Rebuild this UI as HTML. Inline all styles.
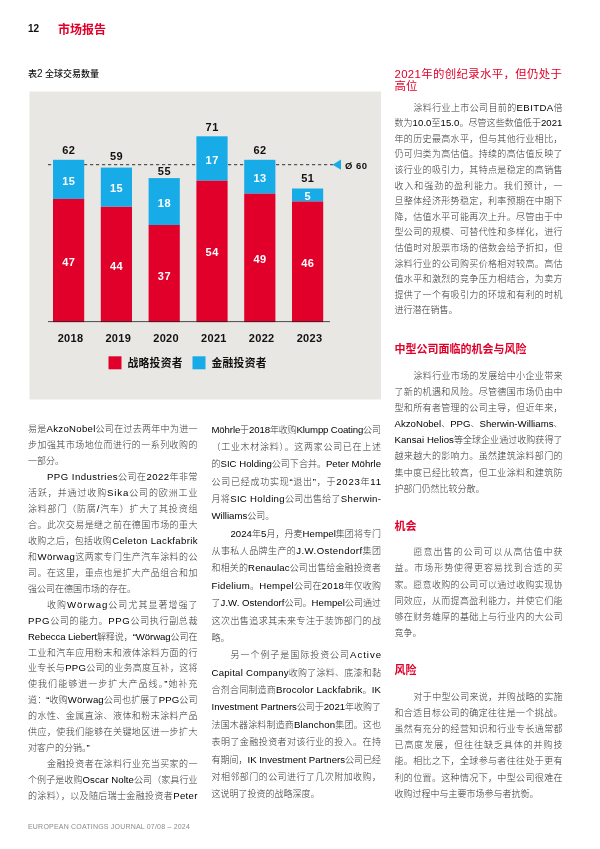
<!DOCTYPE html>
<html lang="zh-CN">
<head>
<meta charset="utf-8">
<title>市场报告</title>
<style>
html,body{margin:0;padding:0;background:#fff;}
body{width:600px;height:849px;position:relative;overflow:hidden;font-family:"Liberation Sans","Noto Sans CJK SC",sans-serif;}
.ln{position:absolute;height:16px;line-height:16px;font-size:9px;color:#333;white-space:nowrap;font-weight:300;}
.ln.j{}
.e{font-size:9.6px;color:#000;font-weight:400;}
.ln.i{text-indent:19px;}
.pn{position:absolute;left:28px;top:20.5px;font-size:10px;line-height:16px;color:#111;font-weight:bold;}
.sec{position:absolute;left:58px;top:20px;font-size:12px;line-height:20px;color:#e1002a;font-weight:bold;}
.cap{position:absolute;left:28px;top:66px;font-size:9px;line-height:16px;color:#111;font-weight:500;}
.h{position:absolute;left:394.5px;color:#e1002a;font-size:11.4px;line-height:14px;white-space:nowrap;}
.hb{font-weight:bold;font-size:11px;}
.ft{position:absolute;left:28px;top:821px;font-size:7px;line-height:12px;color:#8a8a8a;letter-spacing:0.2px;white-space:nowrap;}
svg text{font-family:"Liberation Sans","Noto Sans CJK SC",sans-serif;}
.tv{font-size:11px;font-weight:bold;fill:#111;text-anchor:middle;letter-spacing:0.5px;}
.iv{font-size:11px;font-weight:bold;fill:#fff;text-anchor:middle;letter-spacing:0.5px;}
.yr{font-size:11px;font-weight:bold;fill:#111;text-anchor:middle;letter-spacing:0.3px;}
.lg{font-size:10.8px;fill:#111;font-weight:700;letter-spacing:0.25px;}
</style>
</head>
<body>
<div class="pn">12</div>
<div class="sec">市场报告</div>
<div class="cap">表<span style="font-size:10px">2</span> 全球交易数量</div>
<svg style="position:absolute;left:0;top:0" width="600" height="420" viewBox="0 0 600 420">
<rect x="29.5" y="91.5" width="351.5" height="308" fill="#e9e7e4"/>
<line x1="48" y1="164.7" x2="333" y2="164.7" stroke="#333" stroke-width="1" stroke-dasharray="3.2 2.8"/>
<rect x="53.0" y="159.8" width="31.2" height="39.1" fill="#17abe8"/>
<rect x="53.0" y="198.9" width="31.2" height="123.2" fill="#e1002a"/>
<text class="tv" x="68.8" y="154.1">62</text>
<text class="iv" x="68.8" y="184.6">15</text>
<text class="iv" x="68.8" y="265.6">47</text>
<text class="yr" x="70.5" y="342">2018</text>
<rect x="100.8" y="167.6" width="31.2" height="39.1" fill="#17abe8"/>
<rect x="100.8" y="206.8" width="31.2" height="115.3" fill="#e1002a"/>
<text class="tv" x="116.6" y="159.9">59</text>
<text class="iv" x="116.6" y="192.4">15</text>
<text class="iv" x="116.6" y="269.5">44</text>
<text class="yr" x="118.3" y="342">2019</text>
<rect x="148.6" y="178.1" width="31.2" height="47.0" fill="#17abe8"/>
<rect x="148.6" y="225.0" width="31.2" height="97.1" fill="#e1002a"/>
<text class="tv" x="164.4" y="175.4">55</text>
<text class="iv" x="164.4" y="206.7">18</text>
<text class="iv" x="164.4" y="279.6">37</text>
<text class="yr" x="166.1" y="342">2020</text>
<rect x="196.4" y="136.3" width="31.2" height="44.4" fill="#17abe8"/>
<rect x="196.4" y="180.7" width="31.2" height="141.4" fill="#e1002a"/>
<text class="tv" x="212.2" y="130.6">71</text>
<text class="iv" x="212.2" y="163.7">17</text>
<text class="iv" x="212.2" y="256.4">54</text>
<text class="yr" x="213.9" y="342">2021</text>
<rect x="244.2" y="159.8" width="31.2" height="33.9" fill="#17abe8"/>
<rect x="244.2" y="193.7" width="31.2" height="128.4" fill="#e1002a"/>
<text class="tv" x="260.0" y="154.1">62</text>
<text class="iv" x="260.0" y="181.9">13</text>
<text class="iv" x="260.0" y="263.0">49</text>
<text class="yr" x="261.7" y="342">2022</text>
<rect x="292.0" y="188.5" width="31.2" height="13.0" fill="#17abe8"/>
<rect x="292.0" y="201.5" width="31.2" height="120.6" fill="#e1002a"/>
<text class="tv" x="307.8" y="182.0">51</text>
<text class="iv" x="307.8" y="200.2">5</text>
<text class="iv" x="307.8" y="266.9">46</text>
<text class="yr" x="309.5" y="342">2023</text>
<line x1="48" y1="321.6" x2="330" y2="321.6" stroke="#222" stroke-width="0.8"/>
<polygon points="332.5,164.7 341,159.6 341,169.8" fill="#17abe8"/>
<text x="345" y="169" style="font-size:9.5px;font-weight:bold;fill:#111;letter-spacing:0.45px">Ø 60</text>
<rect x="108.5" y="356.3" width="13" height="13" fill="#e1002a"/>
<text class="lg" x="127.5" y="367.4">战略投资者</text>
<rect x="192.5" y="356.3" width="13" height="13" fill="#17abe8"/>
<text class="lg" x="211.5" y="367.4">金融投资者</text>
</svg>
<div class="ln j" style="left:28px;top:421.20px;width:169.5px;letter-spacing:0.289px">易是<span class="e">AkzoNobel</span>公司在过去两年中为进一</div>
<div class="ln j" style="left:28px;top:437.15px;width:169.5px;letter-spacing:0.440px">步加强其市场地位而进行的一系列收购的</div>
<div class="ln" style="left:28px;top:453.10px;width:169.5px">一部分。</div>
<div class="ln j i" style="left:28px;top:469.05px;width:169.5px;letter-spacing:0.461px"><span class="e">PPG Industries</span>公司在<span class="e">2022</span>年非常</div>
<div class="ln j" style="left:28px;top:485.00px;width:169.5px;letter-spacing:0.878px">活跃，并通过收购<span class="e">Sika</span>公司的欧洲工业</div>
<div class="ln j" style="left:28px;top:500.95px;width:169.5px;letter-spacing:0.812px">涂料部门（防腐<span class="e">/</span>汽车）扩大了其投资组</div>
<div class="ln j" style="left:28px;top:516.90px;width:169.5px;letter-spacing:0.440px">合。此次交易是继之前在德国市场的重大</div>
<div class="ln j" style="left:28px;top:532.85px;width:169.5px;letter-spacing:0.347px">收购之后，包括收购<span class="e">Celeton Lackfabrik</span></div>
<div class="ln j" style="left:28px;top:548.80px;width:169.5px;letter-spacing:0.436px">和<span class="e">Wörwag</span>这两家专门生产汽车涂料的公</div>
<div class="ln j" style="left:28px;top:564.75px;width:169.5px;letter-spacing:0.440px">司。在这里，重点也是扩大产品组合和加</div>
<div class="ln" style="left:28px;top:580.70px;width:169.5px">强公司在德国市场的存在。</div>
<div class="ln j i" style="left:28px;top:596.65px;width:169.5px;letter-spacing:1.018px">收购<span class="e">Wörwag</span>公司尤其显著增强了</div>
<div class="ln j" style="left:28px;top:612.60px;width:169.5px;letter-spacing:0.663px"><span class="e">PPG</span>公司的能力。<span class="e">PPG</span>公司执行副总裁</div>
<div class="ln j" style="left:28px;top:628.55px;width:169.5px;letter-spacing:-0.064px"><span class="e">Rebecca Liebert</span>解释说，<span class="e">“Wörwag</span>公司在</div>
<div class="ln j" style="left:28px;top:644.50px;width:169.5px;letter-spacing:0.440px">工业和汽车应用粉末和液体涂料方面的行</div>
<div class="ln j" style="left:28px;top:660.45px;width:169.5px;letter-spacing:0.289px">业专长与<span class="e">PPG</span>公司的业务高度互补，这将</div>
<div class="ln j" style="left:28px;top:676.40px;width:169.5px;letter-spacing:1.045px">使我们能够进一步扩大产品线。<span class="e">”</span>她补充</div>
<div class="ln j" style="left:28px;top:692.35px;width:169.5px;letter-spacing:0.132px">道：<span class="e">“</span>收购<span class="e">Wörwag</span>公司也扩展了<span class="e">PPG</span>公司</div>
<div class="ln j" style="left:28px;top:708.30px;width:169.5px;letter-spacing:0.440px">的水性、金属直涂、液体和粉末涂料产品</div>
<div class="ln j" style="left:28px;top:724.25px;width:169.5px;letter-spacing:0.440px">供应，使我们能够在关键地区进一步扩大</div>
<div class="ln" style="left:28px;top:740.20px;width:169.5px">对客户的分销。<span class="e">”</span></div>
<div class="ln j i" style="left:28px;top:756.15px;width:169.5px;letter-spacing:0.432px">金融投资者在涂料行业充当买家的一</div>
<div class="ln j" style="left:28px;top:772.10px;width:169.5px;letter-spacing:0.079px">个例子是收购<span class="e">Oscar Nolte</span>公司（家具行业</div>
<div class="ln j" style="left:28px;top:788.05px;width:169.5px;letter-spacing:0.352px">的涂料），以及随后瑞士金融投资者<span class="e">Peter</span></div>
<div class="ln j" style="left:211.5px;top:421.50px;width:169.5px;letter-spacing:-0.120px"><span class="e">Möhrle</span>于<span class="e">2018</span>年收购<span class="e">Klumpp Coating</span>公司</div>
<div class="ln j" style="left:211.5px;top:438.87px;width:169.5px;letter-spacing:0.705px">（工业木材涂料）。这两家公司已在上述</div>
<div class="ln j" style="left:211.5px;top:456.24px;width:169.5px;letter-spacing:0.012px">的<span class="e">SIC Holding</span>公司下合并。<span class="e">Peter Möhrle</span></div>
<div class="ln j" style="left:211.5px;top:473.61px;width:169.5px;letter-spacing:0.736px">公司已经成功实现<span class="e">“</span>退出<span class="e">”</span>，于<span class="e">2023</span>年<span class="e">11</span></div>
<div class="ln j" style="left:211.5px;top:490.98px;width:169.5px;letter-spacing:0.323px">月将<span class="e">SIC Holding</span>公司出售给了<span class="e">Sherwin-</span></div>
<div class="ln" style="left:211.5px;top:508.35px;width:169.5px"><span class="e">Williams</span>公司。</div>
<div class="ln j i" style="left:211.5px;top:525.72px;width:169.5px;letter-spacing:0.035px"><span class="e">2024</span>年<span class="e">5</span>月，丹麦<span class="e">Hempel</span>集团将专门</div>
<div class="ln j" style="left:211.5px;top:543.09px;width:169.5px;letter-spacing:0.421px">从事私人品牌生产的<span class="e">J.W.Ostendorf</span>集团</div>
<div class="ln j" style="left:211.5px;top:560.46px;width:169.5px;letter-spacing:0.139px">和相关的<span class="e">Renaulac</span>公司出售给金融投资者</div>
<div class="ln j" style="left:211.5px;top:577.83px;width:169.5px;letter-spacing:0.271px"><span class="e">Fidelium</span>。<span class="e">Hempel</span>公司在<span class="e">2018</span>年仅收购</div>
<div class="ln j" style="left:211.5px;top:595.20px;width:169.5px;letter-spacing:0.035px">了<span class="e">J.W. Ostendorf</span>公司。<span class="e">Hempel</span>公司通过</div>
<div class="ln j" style="left:211.5px;top:612.57px;width:169.5px;letter-spacing:0.440px">这次出售追求其未来专注于装饰部门的战</div>
<div class="ln" style="left:211.5px;top:629.94px;width:169.5px">略。</div>
<div class="ln j i" style="left:211.5px;top:647.31px;width:169.5px;letter-spacing:0.961px">另一个例子是国际投资公司<span class="e">Active</span></div>
<div class="ln j" style="left:211.5px;top:664.68px;width:169.5px;letter-spacing:0.245px"><span class="e">Capital Company</span>收购了涂料、底漆和黏</div>
<div class="ln j" style="left:211.5px;top:682.05px;width:169.5px;letter-spacing:0.224px">合剂合同制造商<span class="e">Brocolor Lackfabrik</span>。<span class="e">IK</span></div>
<div class="ln j" style="left:211.5px;top:699.42px;width:169.5px;letter-spacing:-0.025px"><span class="e">Investment Partners</span>公司于<span class="e">2021</span>年收购了</div>
<div class="ln j" style="left:211.5px;top:716.79px;width:169.5px;letter-spacing:0.164px">法国木器涂料制造商<span class="e">Blanchon</span>集团。这也</div>
<div class="ln j" style="left:211.5px;top:734.16px;width:169.5px;letter-spacing:0.440px">表明了金融投资者对该行业的投入。在持</div>
<div class="ln j" style="left:211.5px;top:751.53px;width:169.5px;letter-spacing:-0.004px">有期间，<span class="e">IK Investment Partners</span>公司已经</div>
<div class="ln j" style="left:211.5px;top:768.90px;width:169.5px;letter-spacing:0.440px">对相邻部门的公司进行了几次附加收购，</div>
<div class="ln" style="left:211.5px;top:786.27px;width:169.5px">这说明了投资的战略深度。</div>
<div class="h" style="top:67px;width:168px;letter-spacing:0.35px">2021年的创纪录水平，但仍处于</div>
<div class="h" style="top:79.3px;">高位</div>
<div class="ln j i" style="left:394.5px;top:99.70px;width:168px;letter-spacing:0.371px">涂料行业上市公司目前的<span class="e">EBITDA</span>倍</div>
<div class="ln j" style="left:394.5px;top:115.28px;width:168px;letter-spacing:0.054px">数为<span class="e">10.0</span>至<span class="e">15.0</span>。尽管这些数值低于<span class="e">2021</span></div>
<div class="ln j" style="left:394.5px;top:130.86px;width:168px;letter-spacing:0.352px">年的历史最高水平，但与其他行业相比，</div>
<div class="ln j" style="left:394.5px;top:146.44px;width:168px;letter-spacing:0.352px">仍可归类为高估值。持续的高估值反映了</div>
<div class="ln j" style="left:394.5px;top:162.02px;width:168px;letter-spacing:0.352px">该行业的吸引力，其特点是稳定的高销售</div>
<div class="ln j" style="left:394.5px;top:177.60px;width:168px;letter-spacing:0.937px">收入和强劲的盈利能力。我们预计，一</div>
<div class="ln j" style="left:394.5px;top:193.18px;width:168px;letter-spacing:0.352px">旦整体经济形势稳定，利率预期在中期下</div>
<div class="ln j" style="left:394.5px;top:208.76px;width:168px;letter-spacing:0.352px">降，估值水平可能再次上升。尽管由于中</div>
<div class="ln j" style="left:394.5px;top:224.34px;width:168px;letter-spacing:0.352px">型公司的规模、可替代性和多样化，进行</div>
<div class="ln j" style="left:394.5px;top:239.92px;width:168px;letter-spacing:0.352px">估值时对股票市场的倍数会给予折扣，但</div>
<div class="ln j" style="left:394.5px;top:255.50px;width:168px;letter-spacing:0.352px">涂料行业的公司购买价格相对较高。高估</div>
<div class="ln j" style="left:394.5px;top:271.08px;width:168px;letter-spacing:0.352px">值水平和激烈的竞争压力相结合，为卖方</div>
<div class="ln j" style="left:394.5px;top:286.66px;width:168px;letter-spacing:0.352px">提供了一个有吸引力的环境和有利的时机</div>
<div class="ln" style="left:394.5px;top:302.24px;width:168px">进行潜在销售。</div>
<div class="h hb" style="top:341.5px;">中型公司面临的机会与风险</div>
<div class="ln j i" style="left:394.5px;top:367.70px;width:168px;letter-spacing:0.332px">涂料行业市场的发展给中小企业带来</div>
<div class="ln j" style="left:394.5px;top:383.84px;width:168px;letter-spacing:0.352px">了新的机遇和风险。尽管德国市场仍由中</div>
<div class="ln j" style="left:394.5px;top:399.98px;width:168px;letter-spacing:0.352px">型和所有者管理的公司主导，但近年来，</div>
<div class="ln j" style="left:394.5px;top:416.12px;width:168px;letter-spacing:0.024px"><span class="e">AkzoNobel</span>、<span class="e">PPG</span>、<span class="e">Sherwin-Williams</span>、</div>
<div class="ln j" style="left:394.5px;top:432.26px;width:168px;letter-spacing:0.055px"><span class="e">Kansai Helios</span>等全球企业通过收购获得了</div>
<div class="ln j" style="left:394.5px;top:448.40px;width:168px;letter-spacing:0.352px">越来越大的影响力。虽然建筑涂料部门的</div>
<div class="ln j" style="left:394.5px;top:464.54px;width:168px;letter-spacing:0.352px">集中度已经比较高，但工业涂料和建筑防</div>
<div class="ln" style="left:394.5px;top:480.68px;width:168px">护部门仍然比较分散。</div>
<div class="h hb" style="top:518.5px;">机会</div>
<div class="ln j i" style="left:394.5px;top:544.30px;width:168px;letter-spacing:0.999px">愿意出售的公司可以从高估值中获</div>
<div class="ln j" style="left:394.5px;top:560.45px;width:168px;letter-spacing:0.937px">益。市场形势使得更容易找到合适的买</div>
<div class="ln j" style="left:394.5px;top:576.60px;width:168px;letter-spacing:0.352px">家。愿意收购的公司可以通过收购实现协</div>
<div class="ln j" style="left:394.5px;top:592.75px;width:168px;letter-spacing:0.352px">同效应，从而提高盈利能力，并使它们能</div>
<div class="ln j" style="left:394.5px;top:608.90px;width:168px;letter-spacing:0.352px">够在财务雄厚的基础上与行业内的大公司</div>
<div class="ln" style="left:394.5px;top:625.05px;width:168px">竞争。</div>
<div class="h hb" style="top:662.7px;">风险</div>
<div class="ln j i" style="left:394.5px;top:688.60px;width:168px;letter-spacing:0.332px">对于中型公司来说，并购战略的实施</div>
<div class="ln j" style="left:394.5px;top:704.80px;width:168px;letter-spacing:0.352px">和合适目标公司的确定往往是一个挑战。</div>
<div class="ln j" style="left:394.5px;top:721.00px;width:168px;letter-spacing:0.352px">虽然有充分的经营知识和行业专长通常都</div>
<div class="ln j" style="left:394.5px;top:737.20px;width:168px;letter-spacing:0.937px">已高度发展，但往往缺乏具体的并购技</div>
<div class="ln j" style="left:394.5px;top:753.40px;width:168px;letter-spacing:0.352px">能。相比之下，全球参与者往往处于更有</div>
<div class="ln j" style="left:394.5px;top:769.60px;width:168px;letter-spacing:0.352px">利的位置。这种情况下，中型公司很难在</div>
<div class="ln" style="left:394.5px;top:785.80px;width:168px">收购过程中与主要市场参与者抗衡。</div>
<div class="ft">EUROPEAN COATINGS JOURNAL 07/08 – 2024</div>
</body>
</html>
